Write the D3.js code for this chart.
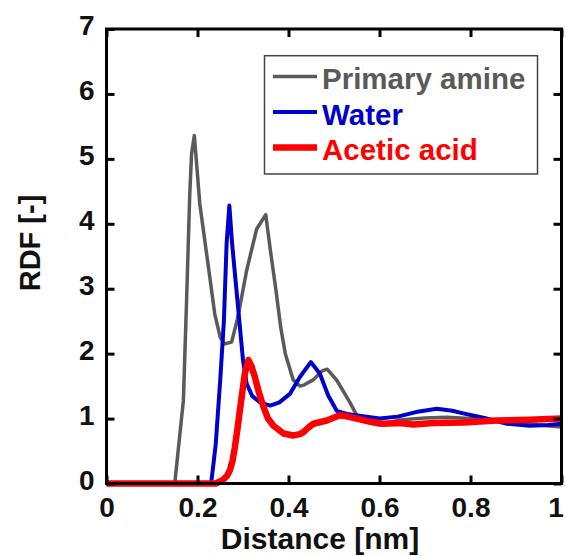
<!DOCTYPE html>
<html lang="en">
<head>
  <meta charset="UTF-8">
  <title>RDF</title>
  <script src="https://cdn.jsdelivr.net/npm/d3@7"></script>
  <style>
    body{ margin:0; background:#fff; }
    svg text{ font-family: "Liberation Sans", Arial, sans-serif; font-weight: bold; }
  </style>
</head>
<body>
<div class="chart"></div>
<script>
// [distance nm, g(r)]
const amine = [[0,0],[0.15,0],[0.169,1.28],[0.176,2.82],[0.183,4.46],[0.187,5.08],[0.193,5.36],[0.198,4.93],[0.205,4.31],
  [0.22,3.54],[0.238,2.61],[0.25,2.25],[0.26,2.15],[0.275,2.18],[0.287,2.51],[0.293,2.72],[0.308,3.28],[0.33,3.92],[0.35,4.14],
  [0.36,3.6],[0.372,3.0],[0.383,2.4],[0.393,2.0],[0.41,1.6],[0.425,1.5],[0.435,1.52],[0.455,1.6],[0.473,1.73],[0.485,1.76],
  [0.506,1.59],[0.535,1.25],[0.55,1.05],[0.586,0.92],[0.6,0.9],[0.645,0.98],[0.7,1.01],[0.748,1.02],[0.8,1.0],[0.843,0.99],
  [0.9,0.95],[0.95,0.9],[1.0,0.87]];
const water = [[0,0],[0.23,0],[0.24,0.6],[0.25,1.6],[0.258,2.5],[0.264,3.7],[0.27,4.28],[0.276,3.7],[0.284,3.1],[0.292,2.5],
  [0.3,1.9],[0.308,1.54],[0.32,1.35],[0.337,1.25],[0.36,1.2],[0.38,1.25],[0.403,1.38],[0.425,1.64],[0.449,1.87],[0.469,1.69],
  [0.487,1.36],[0.506,1.12],[0.528,1.07],[0.56,1.04],[0.6,1.0],[0.64,1.03],[0.68,1.1],[0.726,1.15],[0.76,1.12],[0.784,1.08],
  [0.836,1.0],[0.88,0.92],[0.93,0.89],[0.97,0.9],[1.0,0.92]];
const acetic = [[0,0],[0.24,0],[0.255,0.05],[0.265,0.12],[0.271,0.2],[0.277,0.35],[0.282,0.55],[0.288,0.85],[0.293,1.12],
  [0.304,1.69],[0.312,1.9],[0.319,1.8],[0.326,1.64],[0.335,1.4],[0.345,1.18],[0.355,1.0],[0.367,0.89],[0.389,0.77],[0.41,0.74],
  [0.425,0.76],[0.433,0.79],[0.445,0.87],[0.455,0.92],[0.484,0.97],[0.513,1.05],[0.53,1.03],[0.55,1.0],[0.58,0.95],[0.608,0.92],
  [0.645,0.93],[0.674,0.91],[0.72,0.93],[0.784,0.94],[0.858,0.97],[0.93,0.98],[1.0,1.0]];
const seriesNames = ['Primary amine', 'Water', 'Acetic acid'];
const xTicks = [0, 0.2, 0.4, 0.6, 0.8, 1];
const yTicks = [0, 1, 2, 3, 4, 5, 6, 7];

const styles = [
  {color:'#5a5a5a', w:3.5},
  {color:'#0000cc', w:4},
  {color:'#ff0000', w:6.5}
];
const box = {left:106.5, right:561.5, top:29, bottom:483.5};

const svg = d3.select('.chart').append('svg').attr('width', 566).attr('height', 556);

const x = d3.scaleLinear().domain([0, 1]).range([box.left, box.right]);
const y = d3.scaleLinear().domain([0, 7]).range([box.bottom, box.top]);

const line = d3.line().x(d => x(d[0])).y(d => y(d[1]));
const plot = svg.append('g');
[amine, water, acetic].forEach((s, i) => {
  plot.append('path').datum(s).attr('d', line).attr('fill', 'none')
    .attr('stroke', styles[i].color).attr('stroke-width', styles[i].w).attr('stroke-linejoin', 'round');
});

// axes: inward ticks on all four sides
const fmt = d => d === 0 || d === 1 ? String(d) : d3.format('.1f')(d);
const bottomAx = svg.append('g').attr('transform', `translate(0 ${box.bottom})`)
  .call(d3.axisBottom(x).tickValues(xTicks).tickFormat(fmt).tickSizeInner(-8).tickSizeOuter(0).tickPadding(14));
const topAx = svg.append('g').attr('transform', `translate(0 ${box.top})`)
  .call(d3.axisTop(x).tickValues(xTicks).tickFormat('').tickSizeInner(-8).tickSizeOuter(0));
const leftAx = svg.append('g').attr('transform', `translate(${box.left} 0)`)
  .call(d3.axisLeft(y).tickValues(yTicks).tickFormat(d3.format('d')).tickSizeInner(-8).tickSizeOuter(0).tickPadding(12));
const rightAx = svg.append('g').attr('transform', `translate(${box.right} 0)`)
  .call(d3.axisRight(y).tickValues(yTicks).tickFormat('').tickSizeInner(-8).tickSizeOuter(0));
[bottomAx, topAx, leftAx, rightAx].forEach(a => {
  a.select('.domain').remove();
  a.selectAll('line').attr('stroke', '#000').attr('stroke-width', 3);
  a.selectAll('text').attr('fill', '#111').style('font-size', '28px');
});
leftAx.selectAll('text').attr('dy', '0.2em');
// last label pulled in so it stays inside the page
bottomAx.selectAll('.tick').filter(d => d === 1).select('text').attr('x', -6);

svg.append('rect').attr('x', box.left).attr('y', box.top)
  .attr('width', box.right - box.left).attr('height', box.bottom - box.top)
  .attr('fill', 'none').attr('stroke', '#000').attr('stroke-width', 3);

svg.append('text').attr('x', 320).attr('y', 549).attr('text-anchor', 'middle')
  .style('font-size', '30px').attr('fill', '#111').text('Distance [nm]');
svg.append('text').attr('transform', 'translate(40 243) rotate(-90)').attr('text-anchor', 'middle')
  .style('font-size', '29px').attr('fill', '#111').text('RDF [-]');

// legend
const lg = svg.append('g');
lg.append('rect').attr('x', 264.5).attr('y', 55.7).attr('width', 273).attr('height', 118.3)
  .attr('fill', '#fff').attr('stroke', '#444').attr('stroke-width', 1.5);
seriesNames.forEach((name, i) => {
  const by = 89 + i * 35.5;
  lg.append('line').attr('x1', 273).attr('x2', 317).attr('y1', by - 12.5).attr('y2', by - 12.5)
    .attr('stroke', styles[i].color).attr('stroke-width', styles[i].w);
  lg.append('text').attr('x', 322).attr('y', by).attr('fill', styles[i].color)
    .style('font-size', '29.5px').text(name);
});
</script>
</body>
</html>
